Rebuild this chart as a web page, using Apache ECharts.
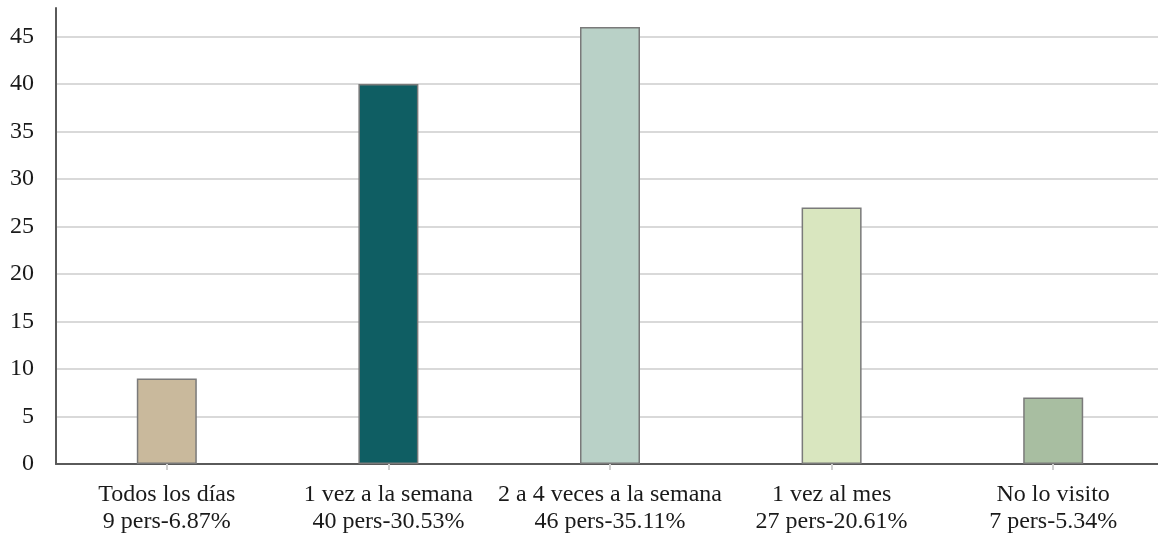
<!DOCTYPE html>
<html>
<head>
<meta charset="utf-8">
<script src="https://cdn.jsdelivr.net/npm/echarts@6/dist/echarts.min.js"></script>
<style>
  html, body { margin: 0; padding: 0; background: #ffffff; overflow: hidden; }
  /* plot runs slightly past the right edge of the window */
  #chart { width: 1164px; height: 535px; }
</style>
</head>
<body>
<div id="chart"></div>
<script>
// Visit frequency survey
const categories = ['Todos los días', '1 vez a la semana', '2 a 4 veces a la semana', '1 vez al mes', 'No lo visito'];
const counts = [9, 40, 46, 27, 7];
const shares = ['6.87%', '30.53%', '35.11%', '20.61%', '5.34%'];
const barColors = ['#c9b99c', '#0f5e63', '#b9d1c7', '#d9e6bf', '#a8bea1'];

const chart = echarts.init(document.getElementById('chart'), null, { renderer: 'canvas' });

chart.setOption({
  backgroundColor: '#ffffff',
  animation: false,
  grid: { left: 56, right: 0, top: 8, bottom: 71, containLabel: false },
  xAxis: {
    type: 'category',
    data: categories,
    axisLine: { lineStyle: { color: '#5a5a5a', width: 2 } },
    axisTick: { show: true, alignWithLabel: true, length: 6, lineStyle: { color: '#d0d0d0', width: 2 } },
    axisLabel: {
      interval: 0,
      margin: 17,
      fontFamily: 'Liberation Serif',
      fontSize: 24,
      lineHeight: 27,
      color: '#1a1a1a',
      formatter: (v, i) => v + '\n' + counts[i] + ' pers-' + shares[i]
    },
    splitLine: { show: false }
  },
  yAxis: {
    type: 'value',
    min: 0,
    max: 48,
    interval: 5,
    axisLine: { show: true, lineStyle: { color: '#5a5a5a', width: 2 } },
    axisTick: { show: false },
    axisLabel: {
      showMaxLabel: false,
      margin: 22,
      fontFamily: 'Liberation Serif',
      fontSize: 24,
      color: '#1a1a1a'
    },
    splitLine: { show: true, showMaxLine: false, lineStyle: { color: '#d9d9d9', width: 2 } }
  },
  series: [{
    type: 'bar',
    barWidth: 60,
    data: counts.map((v, i) => ({
      value: v,
      itemStyle: { color: barColors[i], borderColor: '#7a7a7a', borderWidth: 1.5 }
    }))
  }]
});
</script>
</body>
</html>
